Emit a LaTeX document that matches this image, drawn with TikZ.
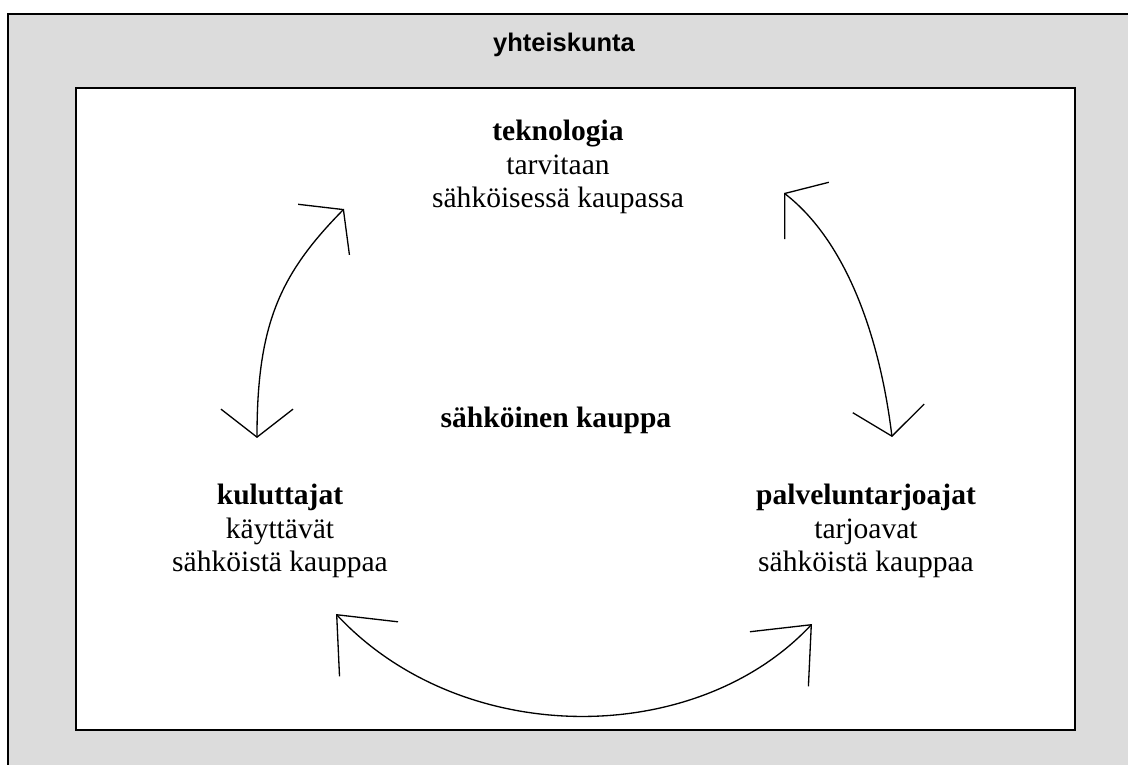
\documentclass[tikz,border=0pt]{standalone}
\usepackage{fontspec}
\setmainfont{Liberation Serif}
\newfontfamily\headsans{Liberation Sans}
\usepackage{xcolor}
\usetikzlibrary{arrows.meta}
\definecolor{framegray}{RGB}{220,220,220}

\begin{document}
\begin{tikzpicture}[
  x=0.2mm, y=0.2mm,
  sidearc/.style={line width=0.75pt, >={Straight Barb[length=5.6mm,width=14.4mm]}, <->},
  basearc/.style={line width=0.75pt, >={Straight Barb[length=9.4mm,width=16mm]}, <->},
  actor/.style={align=center, inner sep=0pt, font=\fontsize{16.8}{19}\selectfont},
]
\useasboundingbox (0,0) rectangle (1128,764);
\clip (0,0) rectangle (1128,764);

% Frames
\draw[fill=framegray, line width=1.2pt] (8,-20) rectangle (1150,750);
\draw[fill=white, line width=1.2pt] (76,34) rectangle (1075,676);

% Labels
\node[font=\headsans\bfseries\fontsize{14.5}{17}\selectfont] (society) at (564,719) {yhteiskunta};
\node[actor] (tech) at (558,597) {\textbf{teknologia}\\tarvitaan\\sähköisessä kaupassa};
\node[actor, font=\fontsize{16.8}{19}\selectfont\bfseries] (ecom) at (556,344) {sähköinen kauppa};
\node[actor] (users) at (280,233) {\textbf{kuluttajat}\\käyttävät\\sähköistä kauppaa};
\node[actor] (providers) at (866,233) {\textbf{palveluntarjoajat}\\tarjoavat\\sähköistä kauppaa};

% Arc ends
\coordinate (lt) at (344,555);
\coordinate (lb) at (257,326);
\coordinate (rt) at (784,571);
\coordinate (rb) at (892,327);
\coordinate (bl) at (336,150);
\coordinate (br) at (812,140);

% Arcs
\draw[sidearc] (lb) .. controls (257,440) and (280,490) .. (lt);
\draw[sidearc] (rt) .. controls (847,522) and (880,426) .. (rb);
\draw[basearc] (bl) .. controls (462,15) and (696,16) .. (br);
\end{tikzpicture}
\end{document}
